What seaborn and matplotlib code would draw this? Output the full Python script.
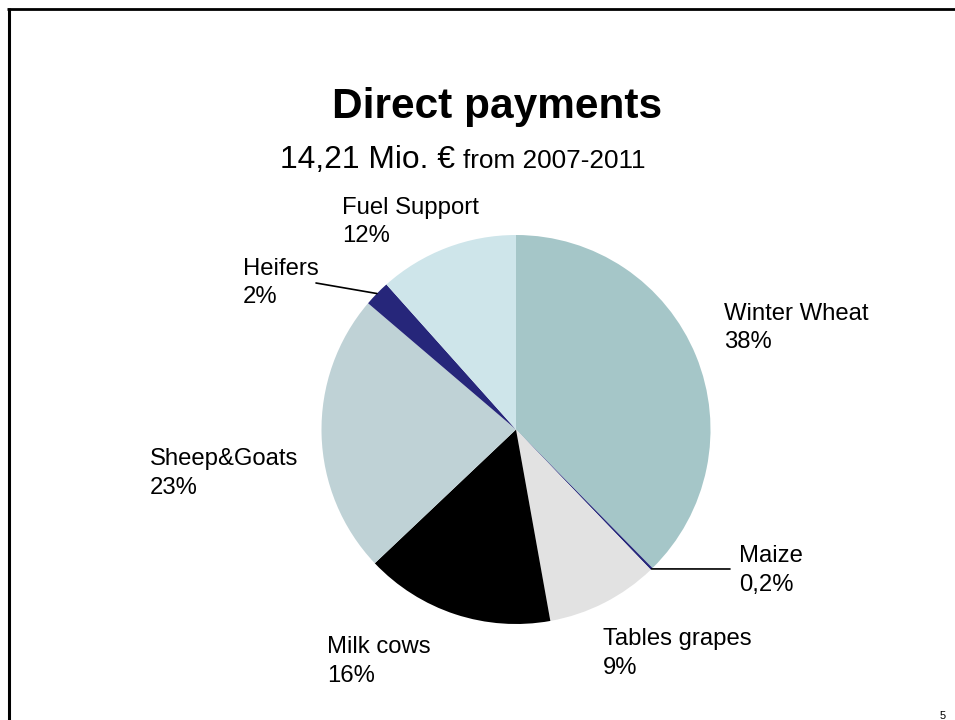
import numpy as np
import matplotlib
matplotlib.use("Agg")
import matplotlib.pyplot as plt
import seaborn as sns
from matplotlib.lines import Line2D

sns.set_theme(style="white")
plt.rcParams['font.family'] = ['Liberation Sans', 'DejaVu Sans']

# ---- data ----
categories = ["Winter Wheat", "Maize", "Tables grapes", "Milk cows",
              "Sheep&Goats", "Heifers", "Fuel Support"]
shares = [37.6, 0.2, 9.35, 15.75, 23.3, 2.15, 11.6]
pct_labels = ["38%", "0,2%", "9%", "16%", "23%", "2%", "12%"]
colors = ["#A5C6C8", "#26267A", "#E2E2E2", "#000000",
          "#BFD2D6", "#26267A", "#CEE5EA"]

title = "Direct payments"
subtitle_big = "14,21 Mio. €"
subtitle_small = "from 2007-2011"

W, H = 955, 720
fig = plt.figure(figsize=(W / 100, H / 100), dpi=100)
fig.patch.set_facecolor("white")

def fx(px):
    return px / W

def fy(py):
    return 1 - py / H

# pie axes: center (516, 429.5), radius 194.5 px
cx, cy, r = 516, 429.5, 194.5
ax = fig.add_axes([fx(cx - r), fy(cy + r), 2 * r / W, 2 * r / H])
wedges, _ = ax.pie(shares, colors=colors, startangle=90, counterclock=False,
                   radius=1.0, wedgeprops=dict(linewidth=0, edgecolor="none"),
                   frame=False)
ax.set_xlim(-1, 1)
ax.set_ylim(-1, 1)
ax.set_aspect("equal")
ax.axis("off")

# labels (left x, first baseline y) in pixels
label_pos = {
    "Winter Wheat": (724, 320),
    "Maize": (739, 562),
    "Tables grapes": (603, 645),
    "Milk cows": (327, 653),
    "Sheep&Goats": (150, 465),
    "Heifers": (243, 275),
    "Fuel Support": (342, 214),
}
for name, pct in zip(categories, pct_labels):
    x, y = label_pos[name]
    fig.text(fx(x), fy(y), name, fontsize=17.2, ha="left", va="baseline", color="black")
    fig.text(fx(x), fy(y + 28.5), pct, fontsize=17.2, ha="left", va="baseline", color="black")

# leader lines from wedge midpoints
def wedge_mid(w):
    th = np.deg2rad((w.theta1 + w.theta2) / 2)
    return (np.cos(th), np.sin(th))

leader_targets = {"Heifers": (316, 283), "Maize": (730, 569)}
for i, name in enumerate(categories):
    if name in leader_targets:
        tx, ty = leader_targets[name]
        ax.annotate("", xy=wedge_mid(wedges[i]), xycoords="data",
                    xytext=(tx, H - ty), textcoords="figure pixels",
                    arrowprops=dict(arrowstyle="-", color="black", lw=1.2,
                                    shrinkA=0, shrinkB=0))

# titles
fig.text(fx(497), fy(118), title, fontsize=30.5, fontweight="bold",
         ha="center", va="baseline", color="black")
fig.text(fx(280), fy(168), subtitle_big, fontsize=22.9, ha="left", va="baseline", color="black")
fig.text(fx(463), fy(168), subtitle_small, fontsize=18.8, ha="left", va="baseline", color="black")

# slide number
fig.text(fx(946), fy(719), "5", fontsize=8, ha="right", va="baseline", color="black")

# slide border (top and left)
fig.add_artist(Line2D([fx(7), 1.0], [fy(8.5), fy(8.5)], color="black", lw=2.0,
                      solid_capstyle="butt", transform=fig.transFigure))
fig.add_artist(Line2D([fx(8.5), fx(8.5)], [fy(7.5), 0.0], color="black", lw=2.2,
                      solid_capstyle="butt", transform=fig.transFigure))

fig.savefig("out.png", dpi=100, facecolor="white")
